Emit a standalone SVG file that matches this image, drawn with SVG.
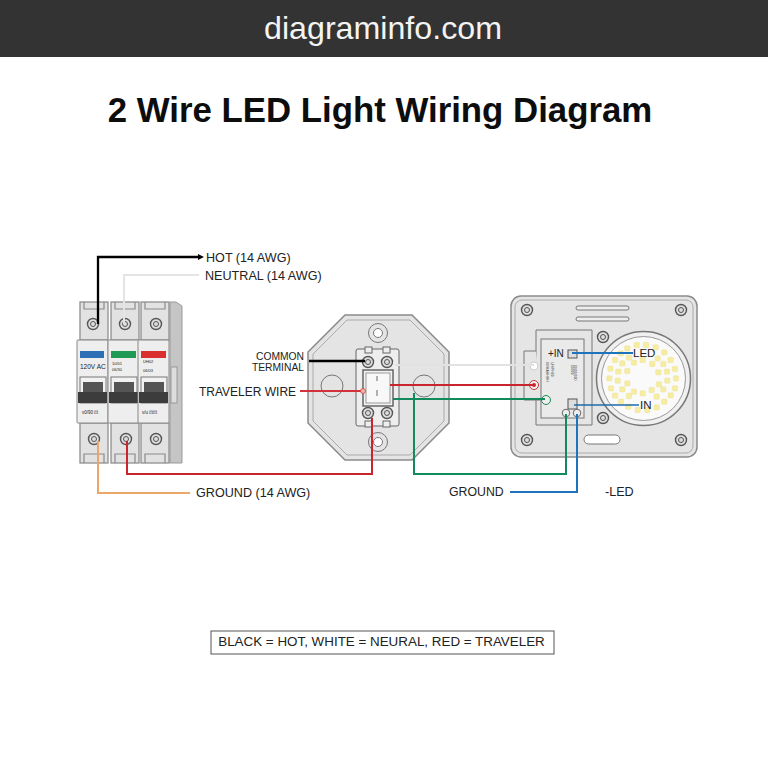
<svg xmlns="http://www.w3.org/2000/svg" width="768" height="768" viewBox="0 0 768 768">
<style>
text{font-family:"Liberation Sans",Arial,sans-serif;fill:#222}
.lb{font-size:12.6px}
.w{fill:none}
.body{fill:#e2e2e2;stroke:#8f8f8f;stroke-width:1.3}
.scr{fill:#ddd;stroke:#555;stroke-width:1.4}
.led{fill:#f6eda2;stroke:#e6da8e;stroke-width:1}
.ln{fill:none;stroke:#8a8a8a;stroke-width:1.2}
.hole{fill:#e4e4e4;stroke:#777}
.tab{fill:#eee;stroke:#666}
</style>
<defs>
<g id="sc"><circle r="5.5" class="scr"/><circle r="2.5" fill="none" stroke="#555" stroke-width="1"/></g>
<rect id="l" x="-8" y="-8" width="16" height="16" rx="3" class="led"/>
<g id="brk">
<rect x="1" y="0" width="28" height="38" class="body"/>
<path d="M5 0V7H25V0" class="ln"/>
<rect x="1" y="121" width="28" height="40" class="body"/>
<path d="M5 161V152H25V161" class="ln"/>
<rect x="-2" y="38" width="31" height="83" rx="1" fill="#eeeeee" stroke="#888"/>
<rect x="1" y="75" width="26" height="26" fill="#f2f2f2" stroke="#777"/>
<rect x="4" y="80" width="20" height="10" fill="#555"/>
<rect x="-1" y="90" width="29" height="11" fill="#3c3c3c"/>
</g>
</defs>
<rect width="768" height="768" fill="#fff"/>
<rect width="768" height="57" fill="#333"/>
<text x="383" y="39" text-anchor="middle" font-size="32.200" style="fill:#f4f4f4">diagraminfo.com</text>
<text x="380" y="122" text-anchor="middle" font-size="34.800" font-weight="700" style="fill:#0d0d0d">2 Wire LED Light Wiring Diagram</text>

<g id="breaker">
<path d="M170 302H176L182 306V463H170Z" fill="#c5c5c5" stroke="#999"/>
<use href="#brk" x="79" y="302"/><use href="#brk" x="110" y="302"/><use href="#brk" x="140" y="302"/>
<rect x="171" y="367" width="6" height="36" fill="#ddd" stroke="#999"/>
<rect x="80" y="351" width="24" height="7" fill="#2c6fb5"/>
<rect x="111" y="351" width="25" height="7" fill="#1f9a54"/>
<rect x="141" y="351" width="25" height="7" fill="#d92f2f"/>
<text x="80" y="369" font-size="6.500">120V AC</text>
<text x="112" y="365" font-size="4">10/01</text><text x="112" y="371" font-size="4">06/30</text>
<text x="143" y="363" font-size="4">UH02</text><text x="143" y="372" font-size="4">06/03</text>
<text x="82" y="414" font-size="4.500">v0/90 ⊡</text><text x="142" y="414" font-size="4.500">v/u ⊡⊡</text>
<use href="#sc" x="93" y="324"/><use href="#sc" x="125" y="324"/><use href="#sc" x="156" y="324"/>
<use href="#sc" x="94" y="439"/><use href="#sc" x="126" y="439"/><use href="#sc" x="156" y="439"/>
</g>

<g id="switch">
<path d="M345 315H412L449 352V423L412 460H345L308 423V352Z" fill="#e4e4e4" stroke="#8a8a8a" stroke-width="1.5"/>
<path d="M347 320H410L444 354V421L410 455H347L313 421V354Z" fill="none" stroke="#aaa"/>
<circle cx="378" cy="333" r="9.500" class="hole"/><circle cx="378" cy="333" r="4.500" fill="#fff" stroke="#777"/>
<circle cx="378" cy="442" r="9.500" class="hole"/><circle cx="378" cy="442" r="4.500" fill="#fff" stroke="#777"/>
<circle cx="332" cy="386" r="11" class="hole"/><circle cx="424" cy="386" r="11" class="hole"/>
<rect x="356" y="349" width="43" height="77" rx="2" fill="#eee" stroke="#666"/>
<rect class="tab" x="365" y="347" width="7" height="6"/><rect class="tab" x="383" y="347" width="7" height="6"/>
<rect class="tab" x="365" y="421" width="7" height="6"/><rect class="tab" x="383" y="421" width="7" height="6"/>
<rect x="363" y="370" width="30" height="36" fill="#f1f1f1" stroke="#666" stroke-width="1.5"/>
<rect x="366" y="373" width="24" height="30" fill="#f8f8f8" stroke="#999"/>
<path d="M377 376V381M377 390V396" stroke="#666"/>
<use href="#sc" x="368" y="362"/><use href="#sc" x="387" y="362"/>
<use href="#sc" x="368" y="413"/><use href="#sc" x="387" y="413"/>
</g>

<g id="led-fixture">
<rect x="511" y="296" width="186" height="161" rx="10" fill="#e5e5e5" stroke="#8a8a8a" stroke-width="1.5"/>
<rect x="515" y="300" width="178" height="153" rx="7" fill="none" stroke="#aaa"/>
<rect x="576" y="306" width="53" height="4" rx="2" fill="#eee" stroke="#777"/>
<rect x="576" y="317" width="53" height="4" rx="2" fill="#eee" stroke="#777"/>
<rect x="584" y="435" width="36" height="9" rx="4.500" fill="#fff" stroke="#777"/>
<use href="#sc" x="527" y="310"/><use href="#sc" x="681" y="310"/><use href="#sc" x="527" y="440"/><use href="#sc" x="681" y="440"/>
<use href="#sc" x="603" y="337"/><use href="#sc" x="603" y="418"/>
<path d="M536 330H592V425H536Z" fill="#e5e5e5" stroke="#777"/>
<path d="M536 351H524V400H541" fill="#e5e5e5" stroke="#777"/>
<rect x="541" y="339" width="43" height="79" fill="#eaeaea" stroke="#777"/>
<text x="548" y="357" font-size="10">+IN</text>
<rect x="568" y="350" width="9" height="8" fill="#ddd" stroke="#555"/>
<rect x="568" y="399" width="9" height="10" fill="#ddd" stroke="#555"/>
<text font-size="3.500" transform="translate(551,362) rotate(90)">UH/FH00</text>
<text font-size="3.500" transform="translate(546,362) rotate(90)">00/HAHHHH</text>
<text font-size="3.500" transform="translate(574,365) rotate(90)">00/00/000</text>
<text font-size="3.500" transform="translate(571,365) rotate(90)">00000</text>
<circle cx="643.500" cy="378.500" r="47" fill="#f0f0f0" stroke="#777" stroke-width="1.500"/>
<circle cx="643.500" cy="378.500" r="42" fill="#fafafa" stroke="#999"/>
<g id="leds" transform="translate(505,290) scale(.3333)">
<use href="#l" x="395" y="165"/><use href="#l" x="423" y="165"/><use href="#l" x="452" y="172"/><use href="#l" x="478" y="187"/><use href="#l" x="497" y="210"/><use href="#l" x="510" y="237"/><use href="#l" x="513" y="265"/><use href="#l" x="510" y="295"/><use href="#l" x="497" y="316"/><use href="#l" x="478" y="335"/><use href="#l" x="455" y="352"/><use href="#l" x="427" y="360"/><use href="#l" x="398" y="360"/><use href="#l" x="370" y="350"/><use href="#l" x="348" y="335"/><use href="#l" x="330" y="317"/><use href="#l" x="318" y="295"/><use href="#l" x="313" y="265"/><use href="#l" x="316" y="236"/><use href="#l" x="330" y="210"/><use href="#l" x="347" y="190"/><use href="#l" x="367" y="175"/>
<use href="#l" x="372" y="203"/><use href="#l" x="352" y="220"/><use href="#l" x="340" y="245"/><use href="#l" x="338" y="272"/><use href="#l" x="352" y="298"/><use href="#l" x="372" y="318"/><use href="#l" x="387" y="218"/><use href="#l" x="367" y="243"/><use href="#l" x="367" y="280"/><use href="#l" x="387" y="305"/><use href="#l" x="413" y="310"/><use href="#l" x="440" y="300"/><use href="#l" x="462" y="283"/><use href="#l" x="475" y="298"/><use href="#l" x="487" y="272"/><use href="#l" x="455" y="320"/><use href="#l" x="460" y="247"/><use href="#l" x="486" y="245"/><use href="#l" x="475" y="222"/><use href="#l" x="458" y="205"/><use href="#l" x="442" y="222"/><use href="#l" x="413" y="210"/>
</g>
<circle cx="534" cy="366" r="4" fill="#fff" stroke="#ccc"/><circle cx="534" cy="385" r="4.500" fill="#f2f2f2" stroke="#c33"/><circle cx="546" cy="400" r="4.500" fill="#eee" stroke="#1a8a57"/>
<circle cx="566" cy="413" r="3.800" fill="#eee" stroke="#666"/><circle cx="577" cy="413" r="3.800" fill="#eee" stroke="#666"/>
</g>

<g id="connectors" class="w">
<path d="M98 324V257H198" stroke="#000" stroke-width="2.300"/>
<path d="M198 254L204 257L198 260Z" fill="#000"/>
<path d="M124 324V275H199" stroke="#e4e4e4" stroke-width="2"/>
<path d="M98 441V493H190" stroke="#eba76a" stroke-width="2"/>
<path d="M127 441V474H372V418" stroke="#c8252d" stroke-width="2"/>
<path d="M309 361H365" stroke="#000" stroke-width="2.300"/>
<path d="M300 391H362" stroke="#d2333a" stroke-width="2"/>
<circle cx="363" cy="391" r="2.500" fill="#f0b8a0" stroke="#d2333a" stroke-width=".7"/>
<path d="M395 365H534" stroke="#e2e2e2" stroke-width="2.200"/>
<path d="M390 385H534" stroke="#c8252d" stroke-width="2.200"/>
<circle cx="534" cy="385" r="2" fill="#c8252d"/>
<path d="M393 399H545" stroke="#128a5c" stroke-width="2.200"/>
<path d="M414 393V474H566V414" stroke="#128a5c" stroke-width="2"/>
<path d="M510 492H577V414" stroke="#1c74bd" stroke-width="2"/>
<path d="M572 353H633" stroke="#1c74bd" stroke-width="2"/>
<path d="M574 405H639" stroke="#1c6cab" stroke-width="1.600"/>
</g>

<g id="labels">
<text class="lb" x="206" y="262">HOT (14 AWG)</text>
<text class="lb" x="205" y="280">NEUTRAL (14 AWG)</text>
<text x="304" y="360" font-size="10.300" text-anchor="end">COMMON</text>
<text x="304" y="371" font-size="10.300" text-anchor="end">TERMINAL</text>
<text x="199" y="396" font-size="12">TRAVELER WIRE</text>
<text class="lb" x="196" y="497">GROUND (14 AWG)</text>
<text x="449" y="496" font-size="12.300">GROUND</text>
<text class="lb" x="605" y="496">-LED</text>
<text x="633" y="357" font-size="11.500">LED</text>
<text x="640" y="409" font-size="11.500">IN</text>
</g>
<g id="legend">
<rect x="211" y="631" width="343" height="23" fill="#fff" stroke="#555"/>
<text x="381.500" y="646" text-anchor="middle" font-size="13.400">BLACK = HOT, WHITE = NEURAL, RED = TRAVELER</text>
</g>
</svg>
